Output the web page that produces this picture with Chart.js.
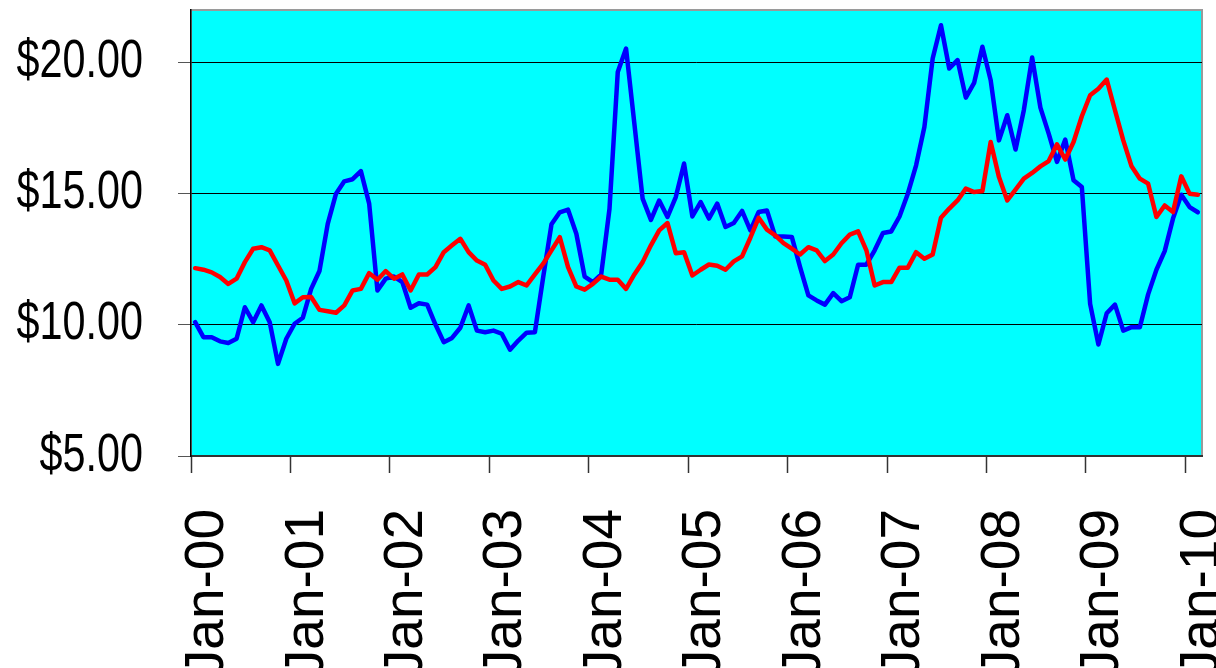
<!DOCTYPE html>
<html>
<head>
<meta charset="utf-8">
<script src="https://cdn.jsdelivr.net/npm/chart.js@4/dist/chart.umd.min.js"></script>
<style>
  html, body { margin: 0; padding: 0; background: #fff; }
</style>
</head>
<body>
<canvas id="chart" width="1216" height="668" style="display:block;width:1216px;height:668px"></canvas>
<script>
// Tick labels
var yearLabels = ['Jan-00', 'Jan-01', 'Jan-02', 'Jan-03', 'Jan-04', 'Jan-05',
                  'Jan-06', 'Jan-07', 'Jan-08', 'Jan-09', 'Jan-10'];
var priceTicks = [5, 10, 15, 20];

// Monthly values, Jan-00 .. Feb-10
var blueSeries = [
    10.10, 9.53, 9.53, 9.37, 9.31, 9.47, 10.67, 10.10, 10.74, 10.10, 8.51, 9.47,
    10.04, 10.27, 11.37, 12.05, 13.85, 15.00, 15.47, 15.55, 15.86, 14.62, 11.31, 11.76,
    11.84, 11.63, 10.65, 10.82, 10.77, 10.01, 9.34, 9.50, 9.89, 10.74, 9.78, 9.72,
    9.78, 9.66, 9.05, 9.40, 9.70, 9.72, 11.82, 13.83, 14.29, 14.39, 13.47, 11.84,
    11.63, 11.92, 14.42, 19.64, 20.53, 17.67, 14.81, 14.00, 14.74, 14.11, 14.87, 16.15,
    14.13, 14.68, 14.05, 14.62, 13.73, 13.88, 14.34, 13.60, 14.30, 14.36, 13.37, 13.37,
    13.35, 12.20, 11.12, 10.93, 10.77, 11.21, 10.90, 11.05, 12.29, 12.29, 12.84, 13.50,
    13.56, 14.13, 15.00, 16.08, 17.54, 20.15, 21.42, 19.77, 20.09, 18.66, 19.22, 20.60,
    19.32, 17.03, 17.99, 16.68, 18.18, 20.19, 18.28, 17.29, 16.21, 17.06, 15.51, 15.25,
    10.80, 9.25, 10.44, 10.77, 9.78, 9.91, 9.91, 11.16, 12.10, 12.81, 14.05, 14.96,
    14.49, 14.29
];
var redSeries = [
    12.16, 12.10, 12.00, 11.82, 11.56, 11.76, 12.39, 12.90, 12.96, 12.84, 12.26, 11.69,
    10.82, 11.05, 11.06, 10.57, 10.52, 10.46, 10.74, 11.31, 11.37, 11.97, 11.72, 12.05,
    11.76, 11.92, 11.31, 11.92, 11.92, 12.20, 12.77, 13.03, 13.28, 12.77, 12.45, 12.29,
    11.69, 11.37, 11.46, 11.63, 11.50, 11.92, 12.33, 12.84, 13.34, 12.20, 11.46, 11.34,
    11.56, 11.84, 11.72, 11.72, 11.37, 11.92, 12.39, 13.03, 13.60, 13.88, 12.73, 12.77,
    11.88, 12.10, 12.30, 12.25, 12.10, 12.42, 12.61, 13.32, 14.08, 13.63, 13.41, 13.11,
    12.90, 12.68, 12.96, 12.84, 12.43, 12.68, 13.11, 13.44, 13.56, 12.84, 11.50, 11.63,
    11.63, 12.18, 12.18, 12.77, 12.52, 12.68, 14.08, 14.43, 14.74, 15.19, 15.06, 15.10,
    16.97, 15.63, 14.74, 15.15, 15.57, 15.79, 16.04, 16.24, 16.88, 16.30, 16.97, 17.95,
    18.75, 19.00, 19.35, 18.18, 17.03, 16.04, 15.57, 15.38, 14.11, 14.55, 14.30, 15.66,
    15.00, 14.96
];

// each month sits in the middle of its slot on the axis
function toPoints(values) {
    return values.map(function(v, i) { return { x: i + 0.5, y: v }; });
}

// cyan plot area with a grey frame
const plotArea = {
    id: 'plotArea',
    beforeDraw(chart) {
        const ctx = chart.ctx;
        const a = chart.chartArea;
        ctx.save();
        ctx.fillStyle = '#00FFFF';
        ctx.fillRect(a.left, a.top, a.right - a.left, a.bottom - a.top);
        ctx.strokeStyle = '#9a9a9a';
        ctx.lineWidth = 2;
        ctx.strokeRect(a.left, a.top, a.right - a.left, a.bottom - a.top);
        ctx.restore();
    }
};

// no narrow font here, so squeeze the y labels sideways (right edge stays put)
const narrowYLabels = {
    id: 'narrowYLabels',
    beforeDraw(chart) {
        const s = chart.scales.y;
        if (s._narrowed) return;
        const orig = s.drawLabels;
        s.drawLabels = function(area) {
            const ctx = this.ctx;
            const ax = this.right - this.options.grid.tickLength - this.options.ticks.padding;
            const left = this.left;
            this.left = -400; // label clip box is built from this, widen it
            ctx.save();
            ctx.translate(ax, 0);
            ctx.scale(0.78, 1);
            ctx.translate(-ax, 0);
            orig.call(this, area);
            ctx.restore();
            this.left = left;
        };
        s._narrowed = true;
    }
};

// the axes should not push the plot area in
function noPadding(scale) {
    scale.paddingTop = 0;
    scale.paddingBottom = 0;
    scale.paddingLeft = 0;
    scale.paddingRight = 0;
}

new Chart(document.getElementById('chart'), {
    type: 'line',
    data: {
        datasets: [{
            data: toPoints(redSeries),
            borderColor: '#FF0000',
            borderWidth: 4.5
        }, {
            data: toPoints(blueSeries),
            borderColor: '#0000FF',
            borderWidth: 4.5
        }]
    },
    options: {
        responsive: false,
        devicePixelRatio: 1,
        animation: false,
        layout: { padding: { top: 10, right: 14, left: 0, bottom: 0 } },
        elements: {
            point: { radius: 0 },
            line: { tension: 0, borderJoinStyle: 'round', borderCapStyle: 'round' }
        },
        plugins: {
            legend: { display: false },
            tooltip: { enabled: false }
        },
        scales: {
            x: {
                type: 'linear',
                min: 0,
                max: 122,
                afterBuildTicks: function(scale) {
                    scale.ticks = yearLabels.map(function(_, k) { return { value: k * 12 }; });
                },
                afterFit: function(scale) {
                    scale.height = 212;
                    noPadding(scale);
                },
                ticks: {
                    callback: function(value) { return yearLabels[Math.round(value / 12)]; },
                    autoSkip: false,
                    minRotation: 90,
                    maxRotation: 90,
                    padding: 36,
                    labelOffset: 17,
                    color: '#000',
                    font: { family: 'Liberation Sans', size: 55 }
                },
                grid: { drawOnChartArea: false, tickLength: 17, tickColor: '#333', tickWidth: 1.5 },
                border: { color: '#333', width: 2 }
            },
            y: {
                min: 5,
                max: 22,
                afterBuildTicks: function(scale) {
                    scale.ticks = priceTicks.map(function(v) { return { value: v }; });
                },
                afterFit: function(scale) {
                    scale.width = 191;
                    noPadding(scale);
                },
                ticks: {
                    callback: function(value) { return '$' + value.toFixed(2); },
                    padding: 35,
                    color: '#000',
                    font: { family: 'Liberation Sans', size: 53 }
                },
                grid: { color: '#000', lineWidth: 1, tickLength: 13, tickColor: '#555' },
                border: { color: '#000', width: 1.5 }
            }
        }
    },
    plugins: [plotArea, narrowYLabels]
});
</script>
</body>
</html>
